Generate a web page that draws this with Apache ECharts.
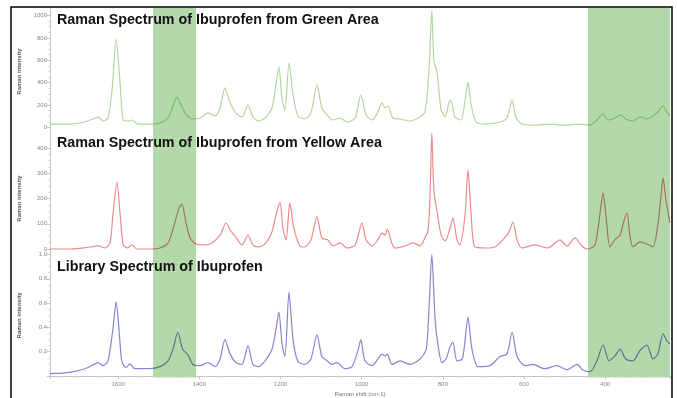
<!DOCTYPE html>
<html><head><meta charset="utf-8">
<script src="https://cdn.jsdelivr.net/npm/echarts@6/dist/echarts.min.js"></script>
<style>html,body{margin:0;padding:0;background:#fff}#c{width:677px;height:398px}</style>
</head><body><div id="c"></div><script>
// Raman shift axis (cm-1), drawn high -> low
const xMin = 240, xMax = 1768;
const panelTitles = [
  'Raman Spectrum of Ibuprofen from Green Area',
  'Raman Spectrum of Ibuprofen from Yellow Area',
  'Library Spectrum of Ibuprofen'
];
const yAxisName = 'Raman intensity';
const xAxisName = 'Raman shift (cm-1)';
// highlighted (green) wavenumber bands [from, to]
const bands = [[1514, 1408], [442, 240]];

// [Raman shift, intensity]
const greenArea = [[1768,31],[1719,31],[1682,49],[1657,85],[1650,94],[1637,58],[1625,85],[1615,335],[1605,790],[1595,380],[1588,67],[1576,58],[1566,67],[1551,31],[1522,31],[1497,40],[1477,85],[1465,192],[1455,272],[1445,200],[1433,120],[1418,76],[1398,85],[1379,130],[1361,103],[1349,174],[1337,353],[1324,219],[1310,130],[1295,94],[1280,200],[1268,94],[1255,58],[1238,85],[1221,174],[1211,380],[1204,540],[1196,245],[1189,156],[1179,576],[1169,290],[1157,103],[1140,76],[1125,130],[1110,380],[1098,174],[1085,112],[1071,67],[1053,85],[1036,49],[1016,85],[1002,290],[989,112],[974,67],[960,138],[950,219],[942,174],[935,192],[923,85],[905,76],[881,58],[861,85],[844,138],[834,513],[827,1049],[822,603],[814,487],[804,156],[794,94],[785,219],[780,245],[770,94],[755,67],[745,245],[738,406],[730,200],[718,49],[696,31],[659,49],[642,85],[629,245],[620,94],[605,31],[573,22],[536,31],[499,22],[462,31],[437,22],[420,67],[405,121],[393,67],[376,85],[361,112],[349,76],[331,58],[314,94],[297,76],[282,103],[270,138],[257,192],[248,138],[240,103]];

const yellowArea = [[1768,0],[1719,0],[1669,8],[1650,12],[1632,4],[1620,24],[1613,135],[1603,265],[1595,135],[1588,20],[1578,4],[1566,16],[1554,0],[1522,0],[1497,4],[1477,24],[1462,95],[1450,162],[1443,178],[1433,107],[1423,44],[1408,20],[1386,16],[1369,24],[1349,55],[1334,103],[1324,75],[1312,51],[1295,16],[1280,55],[1268,16],[1255,8],[1238,20],[1221,67],[1211,135],[1201,186],[1194,83],[1186,36],[1177,182],[1167,83],[1152,12],[1140,8],[1125,36],[1110,127],[1098,44],[1083,36],[1071,12],[1053,24],[1036,4],[1016,16],[999,103],[989,36],[974,12],[960,36],[950,63],[942,55],[937,79],[925,20],[918,4],[893,12],[873,24],[856,12],[844,44],[836,75],[831,234],[827,459],[822,234],[814,147],[804,55],[794,32],[782,83],[775,123],[765,36],[758,16],[745,135],[738,313],[730,135],[721,8],[696,4],[671,8],[652,36],[637,67],[627,107],[617,36],[605,4],[573,16],[541,4],[511,36],[494,12],[474,44],[457,12],[444,0],[425,16],[413,135],[405,222],[398,135],[388,8],[376,36],[363,55],[353,115],[346,142],[339,55],[331,8],[314,28],[297,20],[282,8],[270,95],[262,214],[257,281],[250,194],[240,103]];

const library = [[1768,0.02],[1719,0.03],[1682,0.06],[1657,0.10],[1650,0.11],[1637,0.085],[1625,0.125],[1613,0.385],[1605,0.61],[1598,0.385],[1591,0.125],[1581,0.07],[1571,0.10],[1559,0.06],[1522,0.06],[1497,0.077],[1477,0.125],[1465,0.22],[1453,0.36],[1441,0.22],[1428,0.175],[1416,0.095],[1398,0.085],[1379,0.11],[1361,0.077],[1349,0.14],[1337,0.30],[1324,0.18],[1310,0.11],[1295,0.095],[1280,0.25],[1268,0.095],[1255,0.077],[1238,0.125],[1221,0.22],[1211,0.385],[1204,0.525],[1196,0.26],[1189,0.16],[1179,0.69],[1169,0.30],[1157,0.12],[1140,0.095],[1125,0.14],[1110,0.34],[1098,0.16],[1085,0.125],[1073,0.095],[1061,0.11],[1041,0.06],[1024,0.077],[1009,0.21],[1002,0.30],[992,0.125],[974,0.085],[960,0.14],[950,0.18],[942,0.165],[937,0.18],[925,0.095],[905,0.125],[881,0.095],[856,0.14],[841,0.22],[834,0.55],[827,1.0],[819,0.47],[812,0.26],[802,0.11],[792,0.14],[782,0.24],[775,0.28],[765,0.125],[752,0.14],[745,0.30],[738,0.485],[728,0.22],[713,0.077],[684,0.085],[659,0.16],[642,0.18],[629,0.36],[617,0.16],[597,0.085],[578,0.095],[548,0.06],[519,0.085],[494,0.05],[469,0.095],[455,0.05],[437,0.035],[420,0.125],[405,0.255],[390,0.125],[376,0.165],[363,0.22],[349,0.14],[331,0.125],[314,0.21],[297,0.255],[282,0.14],[270,0.18],[257,0.35],[248,0.29],[240,0.265]];

const lineColors = ['#b4d69e', '#ee8a8a', '#8585d2'];
const lineColorsInBand = ['#7fb56c', '#a5735a', '#5d7190'];
const bandColor = '#b3d9ab';
const font = 'Liberation Sans, Arial, Helvetica, sans-serif';

const chart = echarts.init(document.getElementById('c'), null, {renderer: 'canvas'});

const axisGray = '#c4c4c4';
function xAxisFor(i, visible) {
  return {
    gridIndex: i, type: 'value', min: xMin, max: xMax, inverse: true,
    show: visible, splitNumber: 7, minInterval: 200, maxInterval: 200,
    axisLine: {show: visible, lineStyle: {color: axisGray, width: 1}},
    axisTick: {show: visible, length: 3, lineStyle: {color: axisGray}},
    minorTick: {show: visible, splitNumber: 4, length: 2, lineStyle: {color: '#ddd'}},
    axisLabel: {show: visible, fontSize: 6, color: '#888', margin: 5, fontFamily: font,
      showMinLabel: false, showMaxLabel: false, formatter: v => String(v)},
    splitLine: {show: false},
    name: visible ? xAxisName : '', nameLocation: 'middle', nameGap: 15,
    nameTextStyle: {fontSize: 6, color: '#777', fontFamily: font}
  };
}
function yAxisFor(i, max, interval, fmt, showMin) {
  return {
    gridIndex: i, type: 'value', min: 0, max: max, interval: interval,
    axisLine: {show: true, lineStyle: {color: axisGray}},
    axisTick: {show: true, length: 3, lineStyle: {color: axisGray}},
    minorTick: {show: true, splitNumber: 4, length: 2, lineStyle: {color: '#ddd'}},
    axisLabel: {fontSize: 6, color: '#888', margin: 3, fontFamily: font, formatter: fmt, showMinLabel: showMin},
    splitLine: {show: false},
    name: yAxisName, nameLocation: 'middle', nameGap: 28,
    nameTextStyle: {fontSize: 6, color: '#555', fontWeight: 'bold', fontFamily: font}
  };
}

function lineSeries(i, data) {
  return {
    type: 'line', xAxisIndex: i, yAxisIndex: i, data: data, showSymbol: false,
    smooth: 0.25, clip: false, z: 3,
    lineStyle: {width: 1.2}
  };
}

const option = {
  animation: false,
  backgroundColor: '#fff',
  title: panelTitles.map((t, i) => ({
    text: t, left: 57, top: [13, 136, 260][i], padding: 0, z: 10,
    textStyle: {fontSize: 14.3, fontWeight: 'bold', color: '#111', fontFamily: font}
  })),
  grid: [
    {left: 50, width: 620, top: 15.5, height: 112},
    {left: 50, width: 620, top: 148, height: 101},
    {left: 50, width: 620, top: 254.5, height: 123},
    {left: 50, width: 620, top: 8, height: 369.5}
  ],
  visualMap: [0, 1, 2].map(i => ({
    type: 'piecewise', show: false, seriesIndex: i, dimension: 0,
    pieces: bands.map(b => ({min: Math.min(b[0], b[1]), max: Math.max(b[0], b[1]), color: lineColorsInBand[i]})),
    outOfRange: {color: lineColors[i]}
  })),
  xAxis: [xAxisFor(0, false), xAxisFor(1, false), xAxisFor(2, true), xAxisFor(3, false)],
  yAxis: [
    yAxisFor(0, 1000, 200, v => String(v), true),
    yAxisFor(1, 400, 100, v => String(v), true),
    yAxisFor(2, 1, 0.2, v => v.toFixed(1), false),
    {gridIndex: 3, type: 'value', min: 0, max: 1, axisLine: {show: true, lineStyle: {color: axisGray}},
     axisTick: {show: false}, axisLabel: {show: false}, splitLine: {show: false}}
  ],
  series: [
    lineSeries(0, greenArea),
    lineSeries(1, yellowArea),
    lineSeries(2, library),
    {
      type: 'custom', xAxisIndex: 3, yAxisIndex: 3, data: bands, z: 1, silent: true, clip: false,
      renderItem: function (params, api) {
        const p0 = api.coord([api.value(0), 1]);
        const p1 = api.coord([api.value(1), 0]);
        return {
          type: 'rect',
          shape: {x: Math.min(p0[0], p1[0]), y: p0[1], width: Math.abs(p1[0] - p0[0]), height: p1[1] - p0[1]},
          style: {fill: bandColor}
        };
      }
    }
  ],
  graphic: [{
    type: 'rect', z: 20, silent: true,
    shape: {x: 11, y: 7, width: 661, height: 400},
    style: {fill: null, stroke: '#000', lineWidth: 1.5}
  }]
};
chart.setOption(option);
</script></body></html>
